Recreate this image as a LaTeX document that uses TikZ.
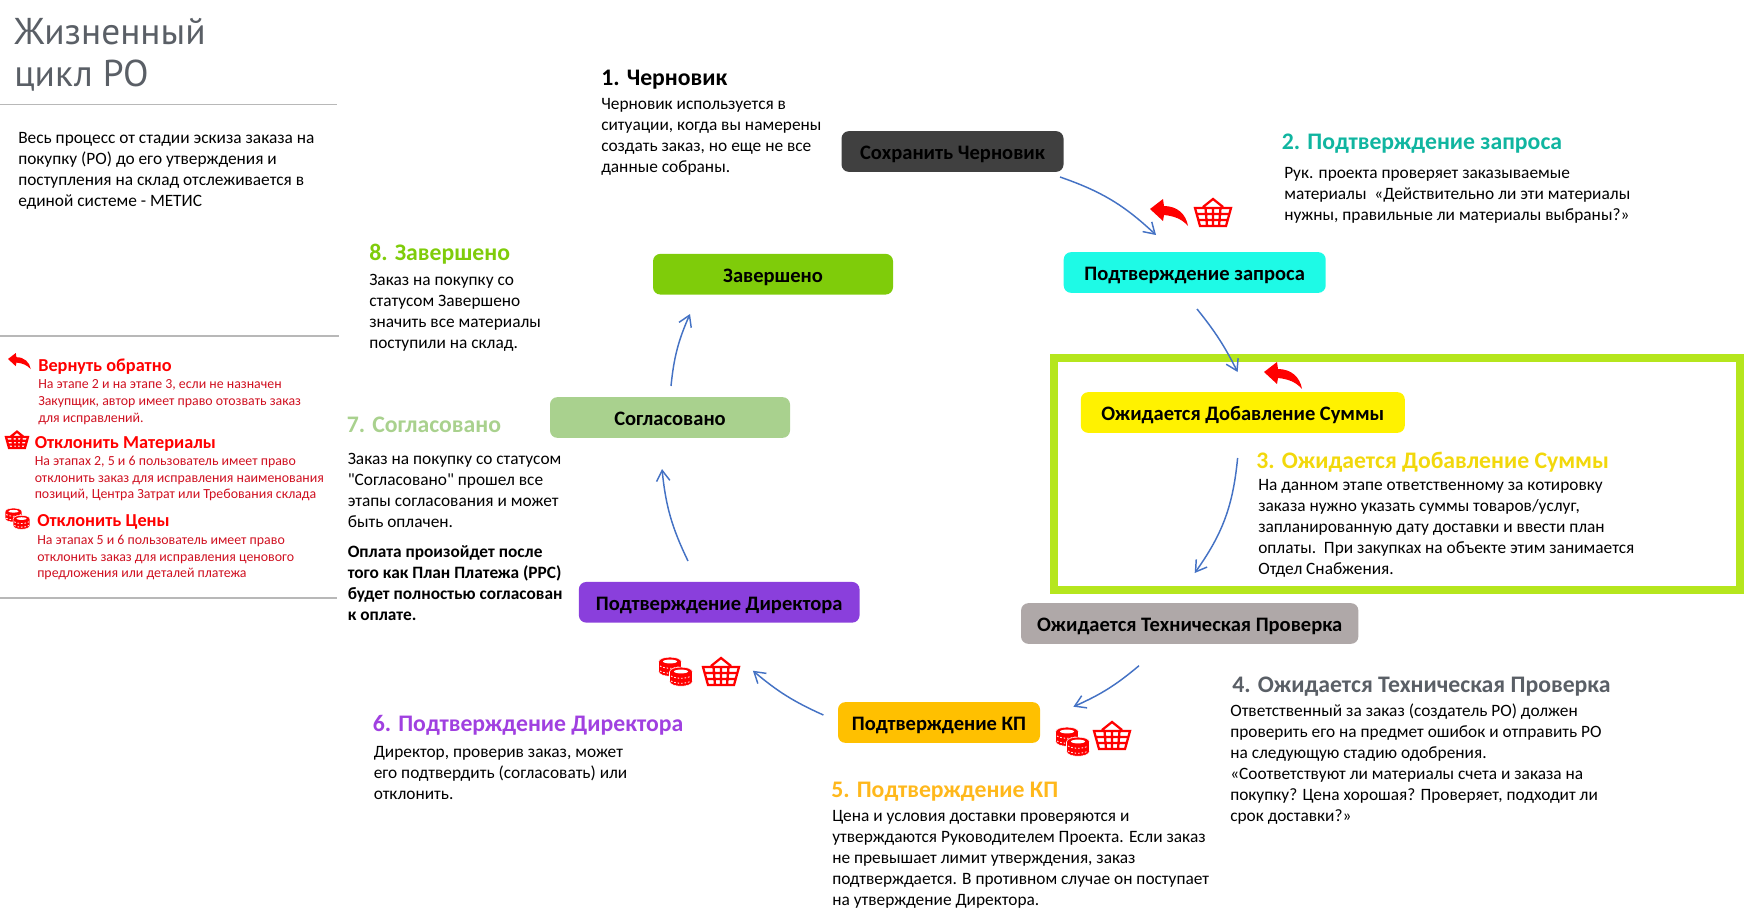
\documentclass[tikz,border=0pt]{standalone}
\usepackage{fontspec}
\setmainfont{Carlito}
\newfontfamily\titlefont{PT Sans}
\newfontfamily\quotefont{Carlito}
\usetikzlibrary{arrows.meta,positioning}

\definecolor{draftbox}{HTML}{404040}
\definecolor{requestbox}{HTML}{1EFAE6}
\definecolor{requesthead}{HTML}{10B5A0}
\definecolor{sumhead}{HTML}{F2D80C}
\definecolor{framegreen}{HTML}{B5E61D}
\definecolor{techbox}{HTML}{AFA8A8}
\definecolor{techhead}{HTML}{5A5F66}
\definecolor{quotebox}{HTML}{FFC000}
\definecolor{quotehead}{HTML}{FFB81C}
\definecolor{directorbox}{HTML}{8A3FDC}
\definecolor{directorhead}{HTML}{A040E0}
\definecolor{agreedbox}{HTML}{A9D18E}
\definecolor{donebox}{HTML}{7FCC0A}
\definecolor{flowblue}{HTML}{4472C4}
\definecolor{legendred}{HTML}{CF1020}

\tikzset{
  statusbox/.style={rounded corners=5.5pt,inner sep=0pt,text=black,
    text height=13.5pt,text depth=1pt,
    font=\fontsize{15.4}{17}\selectfont\bfseries},
  titletext/.style={anchor=base west,inner sep=0pt,text=techhead,
    font=\titlefont\fontsize{28}{31.5}\selectfont},
  headtext/.style={anchor=base west,inner sep=0pt,
    font=\fontsize{17.8}{21}\selectfont\bfseries},
  bodytext/.style={anchor=north west,inner sep=0pt,align=left,yshift=8.6pt,
    font=\fontsize{13}{15.75}\selectfont,
    execute at begin node={\rule{0pt}{10pt}}},
  legendhead/.style={anchor=base west,inner sep=0pt,text=red,
    font=\fontsize{13.7}{15}\selectfont\bfseries},
  legendtext/.style={anchor=north west,inner sep=0pt,align=left,yshift=7pt,text=legendred,
    font=\fontsize{10.4}{12.6}\selectfont,
    execute at begin node={\rule{0pt}{8pt}}},
  flowarrow/.style={draw=flowblue,line width=1.1pt,-{Straight Barb[length=8pt,width=10pt]}},
  rulegray/.style={draw=black!28,line width=0.9pt},
  pics/backarrow/.style={code={
    \fill[red] (0,10) -- (13,0) -- (14,7) .. controls (27,7) and (36,15) .. (38,27)
      .. controls (32,20) and (24,17) .. (14,16) -- (13,22) -- cycle;}},
  pics/basket/.style={code={
    \draw[red,line width=1.7pt] (0,10) -- (36,10) -- (31,28) -- (5,28) -- cycle
      (8,9) -- (18,1) -- (28,9)
      (2,16) -- (34,16) (3.5,22) -- (32.5,22)
      (10.5,10) -- (12,28) (18,10) -- (18,28) (25.5,10) -- (24,28);}},
  pics/coins/.style={code={
    \foreach \cx/\cy in {11/0,22/10}{
      \fill[red,draw=white,line width=0.4pt] (\cx-11.5,\cy+5) .. controls (\cx-11.5,\cy-1.5) and (\cx+11.5,\cy-1.5) .. (\cx+11.5,\cy+5)
        -- (\cx+11.5,\cy+14) .. controls (\cx+11.5,\cy+21) and (\cx-11.5,\cy+21) .. (\cx-11.5,\cy+14) -- cycle;
      \fill[white] (\cx-7,\cy+4.5) .. controls (\cx-7,\cy+2) and (\cx+7,\cy+2) .. (\cx+7,\cy+4.5)
        .. controls (\cx+7,\cy+7) and (\cx-7,\cy+7) .. (\cx-7,\cy+4.5) -- cycle;
      \draw[white,line width=0.6pt,dash pattern=on 1.2pt off 1.4pt] (\cx-10,\cy+9) .. controls (\cx-5,\cy+12) and (\cx+5,\cy+12) .. (\cx+10,\cy+9)
        (\cx-10,\cy+14) .. controls (\cx-5,\cy+17) and (\cx+5,\cy+17) .. (\cx+10,\cy+14);
    }}}
}

\begin{document}
\begin{tikzpicture}[x=0.75pt,y=-0.75pt]
  \useasboundingbox (0,0) rectangle (1759,920);

  % left column
  \path
  node[titletext] (lifeTitle) at (14,45) {Жизненный}
  node[titletext] (lifeTitleB) at (14,87) {цикл РО}
  node[bodytext] (intro) at (18,144) {Весь процесс от стадии эскиза заказа на\\покупку (РО) до его утверждения и\\поступления на склад отслеживается в\\единой системе - МЕТИС}
  ;
  \draw[rulegray] (0,104.5) -- (337,104.5) (0,336) -- (339,336) (0,598) -- (337,598);

  \pic[scale=0.6] at (8,353) {backarrow};
  \pic[scale=0.61] at (6,431) {basket};
  \pic[scale=0.73] at (5.5,508) {coins};
  \path
  node[legendhead] (legendBack) at (38,371) {Вернуть обратно}
  node[legendtext] (legendBackText) at (38,389) {На этапе 2 и на этапе 3, если не назначен\\Закупщик, автор имеет право отозвать заказ\\для исправлений.}
  node[legendhead] (legendGoods) at (34.5,448) {Отклонить Материалы}
  node[legendtext] (legendGoodsText) at (34.5,465) {На этапах 2, 5 и 6 пользователь имеет право\\отклонить заказ для исправления наименования\\позиций, Центра Затрат или Требования склада}
  node[legendhead] (legendPrice) at (37,526) {Отклонить Цены}
  node[legendtext] (legendPriceText) at (37,544) {На этапах 5 и 6 пользователь имеет право\\отклонить заказ для исправления ценового\\предложения или деталей платежа}
  ;

  % stage 3 frame
  \draw[framegreen,line width=6pt] (1054,358) rectangle (1740,590);

  % status boxes
  \path
  node[statusbox,fill=draftbox,minimum width=166.5pt,minimum height=30.5pt] (draft) at (952.5,151.5) {Сохранить Черновик}
  node[statusbox,fill=requestbox,minimum width=196.5pt,minimum height=30.5pt] (request) at (1194.7,272.5) {Подтверждение запроса}
  node[statusbox,fill=yellow,minimum width=243pt,minimum height=30.5pt] (sum) at (1242.8,412.5) {Ожидается Добавление Суммы}
  node[statusbox,fill=techbox,minimum width=253pt,minimum height=30.5pt] (tech) at (1189.7,623.5) {Ожидается Техническая Проверка}
  node[statusbox,fill=quotebox,minimum width=151.5pt,minimum height=30.5pt] (quote) at (939,722.5) {Подтверждение КП}
  node[statusbox,fill=directorbox,minimum width=210.5pt,minimum height=30.5pt] (director) at (719.2,602.3) {Подтверждение Директора}
  node[statusbox,fill=agreedbox,minimum width=180pt,minimum height=30.5pt] (agreed) at (670,417.5) {Согласовано}
  node[statusbox,fill=donebox,minimum width=180pt,minimum height=30.5pt] (done) at (773,274.2) {Завершено}
  ;

  % stage texts
  \path
  node[headtext,text=black] (headDraft) at (601,85.5) {1. Черновик}
  node[bodytext] (textDraft) at (601,110) {Черновик используется в\\ситуации, когда вы намерены\\создать заказ, но еще не все\\данные собраны.}
  node[headtext,text=requesthead] (headRequest) at (1281.5,150) {2. Подтверждение запроса}
  node[bodytext] (textRequest) at (1284,179) {Рук. проекта проверяет заказываемые\\материалы\ \ «Действительно ли эти материалы\\нужны, правильные ли материалы выбраны?»}
  node[headtext,text=sumhead] (headSum) at (1256,468) {3. Ожидается Добавление Суммы}
  node[bodytext] (textSum) at (1258,490.5) {На данном этапе ответственному за котировку\\заказа нужно указать суммы товаров/услуг,\\запланированную дату доставки и ввести план\\оплаты.\ \ При закупках на объекте этим занимается\\Отдел Снабжения.}
  node[headtext,text=techhead] (headTech) at (1232,692) {4. Ожидается Техническая Проверка}
  node[bodytext] (textTech) at (1230,715) {Ответственный за заказ (создатель РО) должен\\проверить его на предмет ошибок и отправить РО\\на следующую стадию одобрения.\\«Соответствуют ли материалы счета и заказа на\\покупку? Цена хорошая? Проверяет, подходит ли\\срок доставки?»}
  node[headtext,text=quotehead] (headQuote) at (831,797) {5. Подтверждение КП}
  node[bodytext] (textQuote) at (832,822) {Цена и условия доставки проверяются и\\утверждаются Руководителем Проекта. Если заказ\\не превышает лимит утверждения, заказ\\подтверждается. В противном случае он поступает\\на утверждение Директора.}
  node[headtext,text=directorhead] (headDirector) at (372.5,731) {6. Подтверждение Директора}
  node[bodytext] (textDirector) at (373.5,758) {Директор, проверив заказ, может\\его подтвердить (согласовать) или\\отклонить.}
  node[headtext,text=agreedbox] (headAgreed) at (346.5,432) {7. Согласовано}
  node[bodytext] (textAgreed) at (347.5,464) {Заказ на покупку со статусом\\{\quotefont "}Согласовано{\quotefont "} прошел все\\этапы согласования и может\\быть оплачен.}
  node[bodytext,font=\fontsize{13}{15.75}\selectfont\bfseries] (notePay) at (347.5,557) {Оплата произойдет после\\того как План Платежа (PPC)\\будет полностью согласован\\к оплате.}
  node[headtext,text=donebox] (headDone) at (369,260) {8. Завершено}
  node[bodytext] (textDone) at (369,285) {Заказ на покупку со\\статусом Завершено\\значить все материалы\\поступили на склад.}
  ;

  % reject marks
  \pic at (1150,199) {backarrow};
  \pic at (1195,198) {basket};
  \pic at (1264,362) {backarrow};
  \pic at (659,657) {coins};
  \pic at (703,657) {basket};
  \pic at (1056,727) {coins};
  \pic at (1094,721) {basket};

  % flow between stages
  \coordinate (draftOut) at (1060,177);
  \coordinate (requestIn) at (1156,235);
  \coordinate (requestOut) at (1197,309);
  \coordinate (sumIn) at (1237.6,372);
  \coordinate (sumOut) at (1237.6,458);
  \coordinate (techIn) at (1194.7,573);
  \coordinate (techOut) at (1139,665.7);
  \coordinate (quoteIn) at (1073.4,706.7);
  \coordinate (quoteOut) at (823.4,715);
  \coordinate (directorIn) at (752.9,670.7);
  \coordinate (directorOut) at (688,561);
  \coordinate (agreedIn) at (662,469);
  \coordinate (agreedOut) at (671,386);
  \coordinate (doneIn) at (690,314);
  \path[every edge/.style={flowarrow}]
  (draftOut) edge[bend left=12] (requestIn)
  (requestOut) edge[bend left=6] (sumIn)
  (sumOut) edge[bend left=15] (techIn)
  (techOut) edge[bend left=8] (quoteIn)
  (quoteOut) edge[bend left=8] (directorIn)
  (directorOut) edge[bend left=10] (agreedIn)
  (agreedOut) edge[bend left=9] (doneIn)
  ;
\end{tikzpicture}
\end{document}
